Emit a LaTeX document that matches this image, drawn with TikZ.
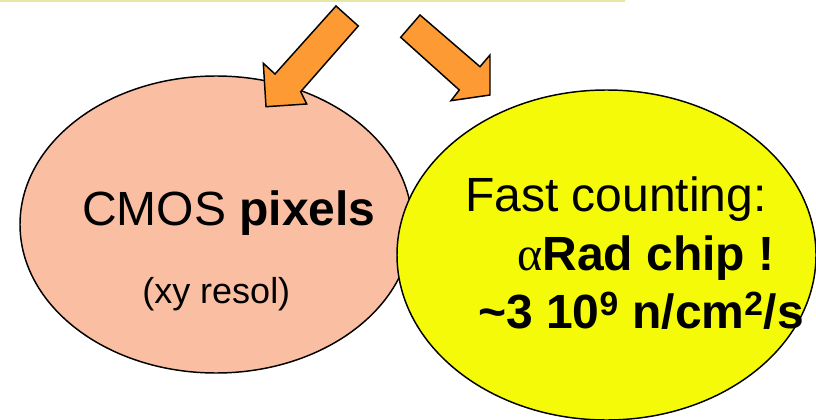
\documentclass[tikz,border=0pt]{standalone}
\usepackage{fontspec}
\setmainfont{Liberation Sans}
\newfontfamily\greekserif{Liberation Serif}
\definecolor{salmon}{RGB}{250,190,162}
\definecolor{lemon}{RGB}{244,250,8}
\definecolor{arroworange}{RGB}{253,154,52}
\definecolor{rulekhaki}{RGB}{230,230,165}
\begin{document}
\begin{tikzpicture}[x=0.75pt,y=-0.75pt,
  bubble/.style={draw=black,line width=1.1pt},
  blockarrow/.style={fill=arroworange,draw=black,line width=1.1pt,line join=miter},
  label/.style={inner sep=0pt,anchor=base west,font=\fontsize{36}{43}\selectfont}]
\useasboundingbox (0,0) rectangle (816,420);
\fill[white] (0,0) rectangle (816,420);

% thin rule along the top edge
\fill[rulekhaki] (0,0) rectangle (625,2);

% the two bubbles
\draw[bubble,fill=salmon] (216,224.5) ellipse [x radius=196, y radius=148.5];
\draw[bubble,fill=lemon] (606.5,255) ellipse [x radius=209.5, y radius=165];

% block arrows
\draw[blockarrow] (336,6) -- (358.3,26) -- (300.7,91.7) -- (306.7,104)
  -- (266,106.7) -- (263.3,63.3) -- (275,74) -- cycle;
\draw[blockarrow] (420,15) -- (400.7,37.3) -- (459.3,90) -- (451,100.7)
  -- (490,95) -- (490,55) -- (480,66.7) -- cycle;

% texts
\node[label] (cmos) at (82,225) {CMOS \textbf{pixels}};
\node[label,font=\fontsize{27}{32}\selectfont] (resol) at (142,303) {(xy resol)};
\node[label] (fast) at (465,212) {Fast counting:};
\node[label] (chip) at (517,270) {{\greekserif α}\textbf{Rad chip !}};
\node[label] (rate) at (478,328) {\textbf{\textasciitilde3 10\textsuperscript{9} n/cm\textsuperscript{2}/s}};
\end{tikzpicture}
\end{document}
